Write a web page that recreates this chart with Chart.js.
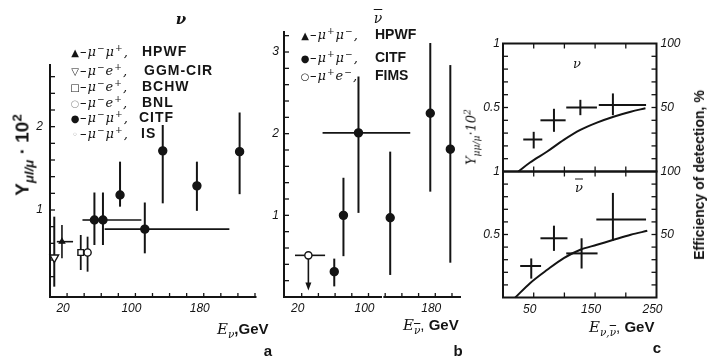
<!DOCTYPE html>
<html>
<head>
<meta charset="utf-8">
<script src="https://cdn.jsdelivr.net/npm/chart.js@4.4.1/dist/chart.umd.min.js"></script>
<style>
html,body{margin:0;padding:0;background:#fff}
#page{position:relative;width:708px;height:358px;overflow:hidden;background:#fff;color:#141414;font-family:"Liberation Sans",Arial,sans-serif}
#page canvas{position:absolute;left:0;top:0}
.t{position:absolute;white-space:nowrap;line-height:1;transform:translate(-50%,-50%)}
.l{position:absolute;white-space:nowrap;line-height:1;transform:translateY(-50%)}
.b{font-weight:bold}
.f{font-family:"DejaVu Serif",serif;font-style:italic}
.fm{font-family:"DejaVu Serif",serif;font-style:italic;font-size:13px;letter-spacing:1px}
.mk{font-family:"DejaVu Sans",sans-serif;font-size:10px;display:inline-block;width:10px;text-align:center}
.nm{font-weight:bold;font-size:14px}
.wide{letter-spacing:1px}
sup,sub{font-size:70%;line-height:0}
.ov{text-decoration:overline}
</style>
</head>
<body>
<div id="page">
<canvas id="cA" width="708" height="358"></canvas>
<canvas id="cB" width="708" height="358"></canvas>
<canvas id="cC1" width="708" height="358"></canvas>
<canvas id="cC2" width="708" height="358"></canvas>

<!-- panel a -->
<div class="t f b" style="left:181px;top:19px;font-size:15px">ν</div>
<div class="l" style="left:70px;top:51px"><span class="mk">▲</span><span class="fm">–μ<sup>−</sup>μ<sup>+</sup>,</span></div>
<div class="l nm wide" style="left:142px;top:51px">HPWF</div>
<div class="l" style="left:70px;top:70px"><span class="mk">▽</span><span class="fm">–μ<sup>−</sup>e<sup>+</sup>,</span></div>
<div class="l nm wide" style="left:144px;top:70px">GGM-CIR</div>
<div class="l" style="left:70px;top:86px"><span class="mk">□</span><span class="fm">–μ<sup>−</sup>e<sup>+</sup>,</span></div>
<div class="l nm wide" style="left:142px;top:86px">BCHW</div>
<div class="l" style="left:70px;top:102px"><span class="mk" style="color:#999">○</span><span class="fm">–μ<sup>−</sup>e<sup>+</sup>,</span></div>
<div class="l nm wide" style="left:142px;top:102px">BNL</div>
<div class="l" style="left:70px;top:117px"><span class="mk">●</span><span class="fm">–μ<sup>−</sup>μ<sup>+</sup>,</span></div>
<div class="l nm wide" style="left:139px;top:117px">CITF</div>
<div class="l" style="left:70px;top:133px"><span class="mk" style="color:#999">◦</span><span class="fm">–μ<sup>−</sup>μ<sup>+</sup>,</span></div>
<div class="l nm wide" style="left:141px;top:133px">IS</div>
<div class="t b" style="left:22px;top:155px;transform:translate(-50%,-50%) rotate(-90deg);font-size:19px">Y<sub><i>μl/μ</i></sub> · 10<sup>2</sup></div>
<div class="l" style="left:217px;top:329px;font-size:15px"><span class="f">E</span><sub><span class="f">ν</span></sub><b>,GeV</b></div>
<div class="t b" style="left:268px;top:350px;font-size:15px">a</div>

<!-- panel b -->
<div class="t f" style="left:378px;top:18px;font-size:14px"><span class="ov">ν</span></div>
<div class="l" style="left:300px;top:34px"><span class="mk">▲</span><span class="fm">–μ<sup>+</sup>μ<sup>−</sup>,</span></div>
<div class="l nm" style="left:375px;top:34px">HPWF</div>
<div class="l" style="left:300px;top:57px"><span class="mk">●</span><span class="fm">–μ<sup>+</sup>μ<sup>−</sup>,</span></div>
<div class="l nm" style="left:375px;top:57px">CITF</div>
<div class="l" style="left:300px;top:75px"><span class="mk">○</span><span class="fm">–μ<sup>+</sup>e<sup>−</sup>,</span></div>
<div class="l nm" style="left:375px;top:75px">FIMS</div>
<div class="l" style="left:403px;top:325px;font-size:15px"><span class="f">E</span><sub><span class="f ov">ν</span></sub>, <b>GeV</b></div>
<div class="t b" style="left:458px;top:350px;font-size:15px">b</div>

<!-- panel c -->
<div class="t f" style="left:577px;top:63px;font-size:13px">ν</div>
<div class="t f" style="left:579px;top:187px;font-size:13px"><span class="ov">ν</span></div>
<div class="t f" style="left:471px;top:137px;transform:translate(-50%,-50%) rotate(-90deg);font-size:13px">Y<sub>μμ/μ</sub>·10<sup>2</sup></div>
<div class="t b" style="left:699px;top:175px;transform:translate(-50%,-50%) rotate(-90deg);font-size:14px">Efficiency of detection, %</div>
<div class="l" style="left:589px;top:327px;font-size:15px"><span class="f">E</span><sub><span class="f">ν,<span class="ov">ν</span></span></sub>, <b>GeV</b></div>
<div class="t b" style="left:657px;top:347px;font-size:15px">c</div>
</div>

<script>
const INK = '#141414';

// Panel a, neutrino beam: [E (GeV), Y, Y low, Y high, E low, E high]
const nuHPWF = [[14, 0.62, 0.42, 0.82, 8, 27]];
const nuGGM  = [[5, 0.43, 0.08, 0.92, null, null]];
const nuBCHW = [[36, 0.49, 0.28, 0.70, null, null]];
const nuBNL  = [[44, 0.49, 0.26, 0.68, null, null]];
const nuCITF = [
  [52, 0.88, 0.58, 1.21, 38, 62],
  [62, 0.88, 0.58, 1.21, 58, 107],
  [82, 1.18, 1.04, 1.58, null, null],
  [111, 0.77, 0.48, 1.09, 64, 210],
  [132, 1.71, 1.08, 2.02, null, null],
  [172, 1.29, 0.99, 1.58, null, null],
  [222, 1.70, 1.19, 2.17, null, null]
];

// Panel b, antineutrino beam (FIMS point is an upper limit, arrow down to Y low)
const nubFIMS = [[28, 0.51, 0.08, null, 12, 48]];
const nubCITF = [
  [59, 0.31, 0.13, 0.47, null, null],
  [70, 1.00, 0.50, 1.46, null, null],
  [88, 2.01, 1.03, 2.70, 45, 150],
  [126, 0.97, 0.27, 1.78, null, null],
  [174, 2.25, 1.29, 3.11, null, null],
  [198, 1.81, 0.42, 2.84, null, null]
];

// Panel c: measured yields and detection efficiency (%)
const cNuCross  = [[50, 0.25, 0.18, 0.31, 33, 64], [83, 0.40, 0.31, 0.49, 61, 102], [126, 0.50, 0.44, 0.56, 103, 153], [179, 0.52, 0.44, 0.61, 156, 233]];
const cNuEffE   = [25, 44, 72, 99, 126, 153, 180, 208, 232];
const cNuEff    = [0, 7, 15.6, 24.7, 32.5, 38.2, 42.8, 46.7, 49.4];
const cNubCross = [[46, 0.25, 0.15, 0.31, 28, 62], [83, 0.47, 0.37, 0.57, 61, 105], [128, 0.35, 0.23, 0.47, 103, 154], [179, 0.62, 0.45, 0.83, 152, 233]];
const cNubEffE  = [20, 44, 72, 99, 126, 153, 180, 208, 235];
const cNubEff   = [0, 11.4, 22, 31.3, 37.9, 41.8, 45.8, 49.8, 52.9];

// Tick marks and tick labels
const range = (a, b, s) => { const r = []; for (let v = a; v <= b + s / 2; v += s) r.push(Math.round(v * 1000) / 1000); return r; };
const aXMarks = range(20, 240, 20), aXLabels = [20, 100, 180];
const aYMarks = range(0.2, 2.6, 0.2), aYLabels = [1, 2];
const bXMarks = range(20, 200, 20), bXLabels = [20, 100, 180];
const bYMarks = range(0.2, 3.2, 0.2), bYLabels = [1, 2, 3];
const cXMarks = [50, 100, 150, 200], cXLabels = [50, 150, 250];
const cYMarks = range(0.1, 0.9, 0.1), cYLabels = [0.5, 1];
const cRMarks = range(10, 90, 10), cRLabels = [50, 100];

const W = 708, H = 358;
Chart.defaults.animation = false;

const pts = rows => rows.map(r => ({ x: r[0], y: r[1], yl: r[2], yh: r[3], xl: r[4], xh: r[5] }));
const curve = (e, v) => e.map((x, i) => ({ x, y: v[i] }));
const uniq = a => Array.from(new Set(a)).sort((p, q) => p - q);

function seg(ctx, x1, y1, x2, y2) { ctx.beginPath(); ctx.moveTo(x1, y1); ctx.lineTo(x2, y2); ctx.stroke(); }

function scale(pos, min, max, marks, labels, size, pad, off, show) {
  const visible = show !== false;
  return {
    type: 'linear', position: pos, min, max, display: visible,
    grid: { display: false, drawTicks: false }, border: { display: false },
    afterBuildTicks: s => { s.ticks = uniq(marks.concat(labels)).map(v => ({ value: v })); },
    afterFit: s => {
      const sz = visible ? size : 0;
      if (pos === 'bottom' || pos === 'top') s.height = sz; else s.width = sz;
    },
    ticks: {
      autoSkip: false, maxRotation: 0, minRotation: 0, padding: pad, labelOffset: off || 0, color: INK,
      font: { family: 'Liberation Sans', style: 'italic', size: 12 },
      callback: v => labels.includes(v) ? String(v) : ''
    }
  };
}

// error bars, upper-limit arrows
function drawBars(chart) {
  const ctx = chart.ctx, xs = chart.scales.x;
  chart.data.datasets.forEach(ds => {
    if (!ds.bars) return;
    const ys = chart.scales[ds.yAxisID || 'y'];
    ctx.save();
    ctx.strokeStyle = INK; ctx.fillStyle = INK; ctx.lineCap = 'butt';
    ds.data.forEach(p => {
      const px = xs.getPixelForValue(p.x), py = ys.getPixelForValue(p.y);
      if (ds.bars.arrow) {
        const tip = ys.getPixelForValue(p.yl);
        ctx.lineWidth = ds.bars.v;
        seg(ctx, px, py, px, tip - 6);
        ctx.beginPath(); ctx.moveTo(px - 3, tip - 8); ctx.lineTo(px + 3, tip - 8); ctx.lineTo(px, tip); ctx.closePath(); ctx.fill();
      } else if (p.yl != null) {
        ctx.lineWidth = ds.bars.v;
        seg(ctx, px, ys.getPixelForValue(p.yl), px, ys.getPixelForValue(p.yh));
      }
      if (p.xl != null) {
        ctx.lineWidth = ds.bars.h;
        seg(ctx, xs.getPixelForValue(p.xl), py, xs.getPixelForValue(p.xh), py);
      }
    });
    ctx.restore();
  });
}

function frameA(chart) {
  const { ctx, chartArea: a, scales: { x, y } } = chart;
  ctx.save(); ctx.strokeStyle = INK; ctx.lineWidth = 2; ctx.lineCap = 'square';
  seg(ctx, a.left, a.top, a.left, a.bottom);
  seg(ctx, a.left, a.bottom, a.right, a.bottom);
  ctx.lineWidth = 1.3; ctx.lineCap = 'butt';
  aYMarks.forEach(v => { const p = y.getPixelForValue(v); seg(ctx, a.left, p, a.left + 5, p); });
  aXMarks.forEach(v => { const p = x.getPixelForValue(v); seg(ctx, p, a.bottom, p, a.bottom - 4); });
  ctx.restore();
}

function frameB(chart) {
  const { ctx, chartArea: a, scales: { x, y } } = chart;
  ctx.save(); ctx.strokeStyle = INK; ctx.lineWidth = 2; ctx.lineCap = 'square';
  seg(ctx, a.left, a.top, a.left, a.bottom);
  const gap0 = x.getPixelForValue(115), gap1 = x.getPixelForValue(119);
  seg(ctx, a.left, a.bottom, gap0, a.bottom);
  seg(ctx, gap1, a.bottom, a.right, a.bottom);
  ctx.lineWidth = 1.3; ctx.lineCap = 'butt';
  bYMarks.forEach(v => { const p = y.getPixelForValue(v); seg(ctx, a.left, p, a.left + 5, p); });
  bXMarks.forEach(v => { const p = x.getPixelForValue(v); seg(ctx, p, a.bottom, p, a.bottom - 4); });
  ctx.restore();
}

function frameC(chart) {
  const { ctx, chartArea: a, scales: { x, y, y2 } } = chart;
  ctx.save(); ctx.strokeStyle = INK; ctx.lineWidth = 2;
  ctx.strokeRect(a.left, a.top, a.right - a.left, a.bottom - a.top);
  ctx.lineWidth = 1.3;
  cYMarks.forEach(v => { const p = y.getPixelForValue(v); seg(ctx, a.left, p, a.left + 5, p); });
  cRMarks.forEach(v => { const p = y2.getPixelForValue(v); seg(ctx, a.right, p, a.right - 5, p); });
  cXMarks.forEach(v => {
    const p = x.getPixelForValue(v);
    seg(ctx, p, a.bottom, p, a.bottom - 5);
    seg(ctx, p, a.top, p, a.top + 5);
  });
  ctx.restore();
}

function inkPlugin(frame) {
  return { id: 'ink', beforeDatasetsDraw(chart) { frame(chart); drawBars(chart); } };
}

function padding(L, T, R, B, wl, wr, hb) {
  return { left: L - wl, top: T, right: W - R - wr, bottom: H - B - hb };
}

const marker = (style, r, fill, extra) => Object.assign({
  pointStyle: style, pointRadius: r, pointHoverRadius: r, backgroundColor: fill, borderColor: INK,
  borderWidth: 1.4, clip: false
}, extra || {});

// panel a
new Chart(document.getElementById('cA'), {
  type: 'scatter',
  data: {
    datasets: [
      Object.assign({ label: 'GGM-CIR', data: pts(nuGGM), bars: { v: 2, h: 1.6 } }, marker('triangle', 5, '#fff', { rotation: 180 })),
      Object.assign({ label: 'HPWF', data: pts(nuHPWF), bars: { v: 1.6, h: 1.6 } }, marker('triangle', 3, INK)),
      Object.assign({ label: 'BCHW', data: pts(nuBCHW), bars: { v: 1.8, h: 1.6 } }, marker('rect', 4, '#fff')),
      Object.assign({ label: 'BNL', data: pts(nuBNL), bars: { v: 1.8, h: 1.6 } }, marker('circle', 3.6, '#fff')),
      Object.assign({ label: 'CITF', data: pts(nuCITF), bars: { v: 2, h: 1.6 } }, marker('circle', 4, INK))
    ]
  },
  options: {
    responsive: false, devicePixelRatio: 1,
    layout: { padding: padding(50, 65, 255.5, 297, 40, 0, 30) },
    plugins: { legend: { display: false }, tooltip: { enabled: false } },
    scales: {
      x: scale('bottom', 0, 240.6, aXMarks, aXLabels, 30, 4, -4),
      y: scale('left', -0.044, 2.74, aYMarks, aYLabels, 40, 7)
    }
  },
  plugins: [inkPlugin(frameA)]
});

// panel b
new Chart(document.getElementById('cB'), {
  type: 'scatter',
  data: {
    datasets: [
      Object.assign({ label: 'FIMS', data: pts(nubFIMS), bars: { v: 1.6, h: 1.6, arrow: true } }, marker('circle', 3.6, '#fff')),
      Object.assign({ label: 'CITF', data: pts(nubCITF), bars: { v: 2, h: 1.6 } }, marker('circle', 4, INK))
    ]
  },
  options: {
    responsive: false, devicePixelRatio: 1,
    layout: { padding: padding(284, 32, 460, 297, 40, 0, 30) },
    plugins: { legend: { display: false }, tooltip: { enabled: false } },
    scales: {
      x: scale('bottom', -1.2, 209.6, bXMarks, bXLabels, 30, 4, -4),
      y: scale('left', 0, 3.245, bYMarks, bYLabels, 40, 5)
    }
  },
  plugins: [inkPlugin(frameB)]
});

// panel c: shared axis setup for the two stacked boxes
function panelC(id, top, bottom, cross, effE, eff, withX) {
  return new Chart(document.getElementById(id), {
    type: 'scatter',
    data: {
      datasets: [
        { label: 'yield', data: pts(cross), pointRadius: 0, bars: { v: 2, h: 2 }, clip: false },
        { type: 'line', label: 'efficiency', data: curve(effE, eff), yAxisID: 'y2', borderColor: INK, borderWidth: 2,
          pointRadius: 0, tension: 0.4, cubicInterpolationMode: 'monotone', fill: false, clip: false }
      ]
    },
    options: {
      responsive: false, devicePixelRatio: 1,
      layout: { padding: padding(503, top, 656.5, bottom, 40, 40, withX ? 30 : 0) },
      plugins: { legend: { display: false }, tooltip: { enabled: false } },
      scales: {
        x: scale('bottom', 0, 250, cXMarks, cXLabels, 30, 5, -4, withX),
        y: scale('left', 0, 1, cYMarks, cYLabels, 40, 3),
        y2: scale('right', 0, 100, cRMarks, cRLabels, 40, 4)
      }
    },
    plugins: [inkPlugin(frameC)]
  });
}
panelC('cC1', 43.5, 171.5, cNuCross, cNuEffE, cNuEff, false);
panelC('cC2', 171.5, 297.5, cNubCross, cNubEffE, cNubEff, true);
</script>
</body>
</html>
